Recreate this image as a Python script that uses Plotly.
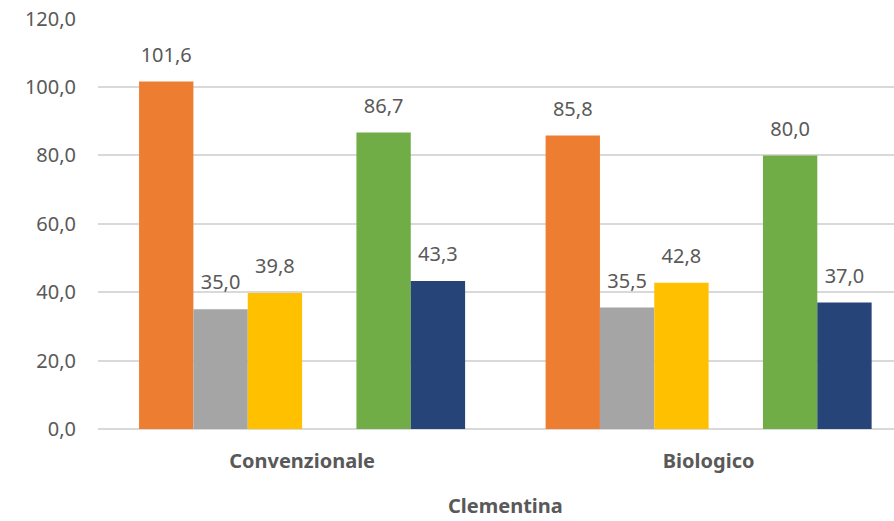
import plotly.graph_objects as go

categories = ["Convenzionale", "Biologico"]
series_names = ["Serie 1", "Serie 2", "Serie 3", "Serie 4", "Serie 5", "Serie 6"]
values_s1 = [101.6, 85.8]
values_s2 = [35.0, 35.5]
values_s3 = [39.8, 42.8]
values_s4 = [None, None]
values_s5 = [86.7, 80.0]
values_s6 = [43.3, 37.0]
colors = ["#ED7D31", "#A5A5A5", "#FFC000", "#5B9BD5", "#70AD47", "#264478"]
axis_title = "Clementina"

all_values = [values_s1, values_s2, values_s3, values_s4, values_s5, values_s6]

FONT = "Noto Sans"
TXT = "#595959"
LABEL_PAD = 3.2  # value units of empty space between bar top and its label

fig = go.Figure()
for i, (name, vals, col) in enumerate(zip(series_names, all_values, colors)):
    fig.add_trace(go.Bar(
        x=categories, y=vals, name=name, offsetgroup=str(i),
        marker=dict(color=col, line=dict(width=0)),
        hoverinfo="x+y+name",
    ))
for i, (name, vals) in enumerate(zip(series_names, all_values)):
    fig.add_trace(go.Bar(
        x=categories,
        y=[LABEL_PAD if v is not None else None for v in vals],
        base=[v if v is not None else None for v in vals],
        customdata=vals, offsetgroup=str(i), name=name + " etichette",
        marker=dict(color="rgba(0,0,0,0)", line=dict(width=0)),
        texttemplate="%{customdata:.1f}", textposition="outside",
        textfont=dict(family=FONT, size=20, color=TXT),
        cliponaxis=False, hoverinfo="skip",
    ))

fig.update_layout(
    width=894, height=521,
    margin=dict(l=98, r=0, t=18, b=92),
    paper_bgcolor="white", plot_bgcolor="white",
    barmode="group", bargap=0.198, bargroupgap=0,
    separators=",.",
    showlegend=False,
    font=dict(family=FONT, color=TXT),
    xaxis=dict(
        range=[-0.502, 1.456],
        showgrid=False, showline=False, zeroline=False,
        ticks="", ticklabelstandoff=18,
        tickfont=dict(family=FONT, size=20, color=TXT, weight="bold"),
    ),
    yaxis=dict(
        range=[0, 120.2], tickvals=[0, 20, 40, 60, 80, 100, 120], tickformat=".1f",
        showgrid=True, gridcolor="#D9D9D9", gridwidth=1.5,
        zeroline=True, zerolinecolor="#D9D9D9", zerolinewidth=1.5,
        showline=False, ticks="", ticklabelstandoff=21,
        tickfont=dict(family=FONT, size=20, color=TXT),
        automargin=False,
    ),
    annotations=[dict(
        text=axis_title, xref="x", yref="paper", x=0.5, y=-0.185,
        xanchor="center", yanchor="middle", showarrow=False,
        font=dict(family=FONT, size=20, color=TXT, weight="bold"),
    )],
)

fig.write_html("out.html", config={"displayModeBar": False},
               post_script="document.body.style.margin='0';")
